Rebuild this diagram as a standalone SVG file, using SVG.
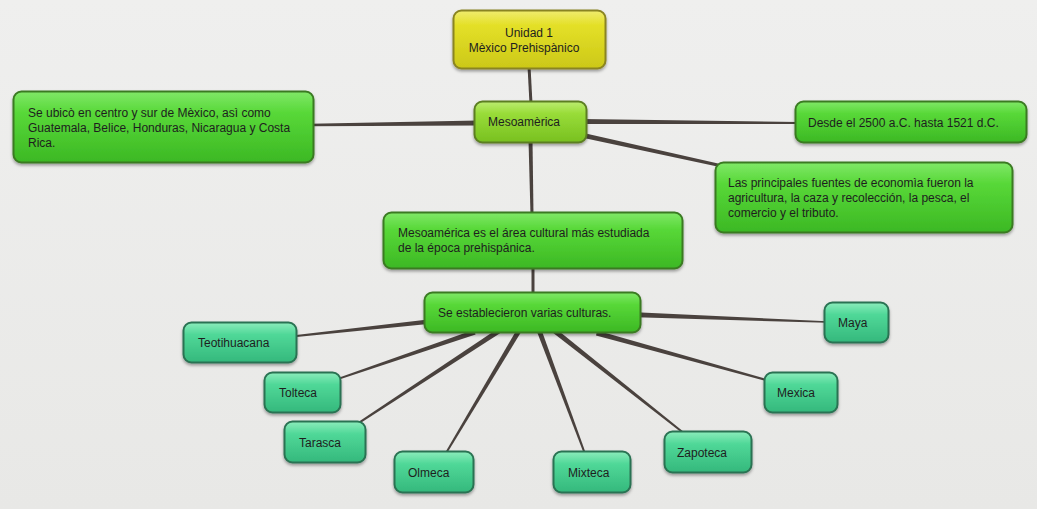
<svg xmlns="http://www.w3.org/2000/svg" width="1037" height="509" viewBox="0 0 1037 509">
<defs>
<linearGradient id="bg" x1="0" y1="0" x2="0" y2="1"><stop offset="0" stop-color="#efefee"/><stop offset="1" stop-color="#e8e8e6"/></linearGradient>
<linearGradient id="gY" x1="0" y1="0" x2="0" y2="1"><stop offset="0" stop-color="#f0ec70"/><stop offset="0.25" stop-color="#e4e028"/><stop offset="1" stop-color="#ccc818"/></linearGradient>
<linearGradient id="gL" x1="0" y1="0" x2="0" y2="1"><stop offset="0" stop-color="#bcec70"/><stop offset="0.3" stop-color="#98dc38"/><stop offset="1" stop-color="#78c020"/></linearGradient>
<linearGradient id="gG" x1="0" y1="0" x2="0" y2="1"><stop offset="0" stop-color="#80e868"/><stop offset="0.3" stop-color="#58d838"/><stop offset="1" stop-color="#3cb824"/></linearGradient>
<linearGradient id="gT" x1="0" y1="0" x2="0" y2="1"><stop offset="0" stop-color="#8cecbc"/><stop offset="0.3" stop-color="#50d898"/><stop offset="1" stop-color="#34b87c"/></linearGradient>
<filter id="sh" x="-10%" y="-10%" width="120%" height="140%"><feDropShadow dx="0" dy="2" stdDeviation="1.5" flood-color="#000" flood-opacity="0.35"/></filter>
</defs>
<style>
.n{filter:url(#sh);stroke-width:2}
.y{fill:url(#gY);stroke:#8a8420}
.l{fill:url(#gL);stroke:#5c7e22}
.g{fill:url(#gG);stroke:#3a7a22}
.t{fill:url(#gT);stroke:#2a7252}
text{font-family:"Liberation Sans",Arial,sans-serif;font-size:12px;fill:#1e1e1e}
.c{fill:#4a423e}
.cl{stroke:#4a423e;fill:none}
</style>
<rect width="1037" height="509" fill="url(#bg)"/>
<g id="connectors">
<line class="cl" x1="529" y1="66" x2="531" y2="104" stroke-width="3"/>
<polygon class="c" points="478,120.5 478,125.5 310,126.3 310,123.7"/>
<polygon class="c" points="582,119 798,122 798,124 582,124"/>
<polygon class="c" points="582.5,132.7 581.5,137.5 719.7,167 720.3,164"/>
<polygon class="c" points="528.5,140 532.5,140 533.5,215 530.5,215"/>
<line class="cl" x1="533" y1="266" x2="533" y2="295" stroke-width="3"/>
<polygon class="c" points="428,319.5 428,324 294,337.2 294,335.2"/>
<polygon class="c" points="636,312.3 636,317.3 827,322.8 827,321.3"/>
<polygon class="c" points="597,330.5 596,335.5 767.7,381.5 768.3,379.5"/>
<polygon class="c" points="474,329.7 475.6,334.4 338.5,379.8 337.9,377.9"/>
<polygon class="c" points="497.3,329 500,333.2 358.6,424.2 357.5,422.5"/>
<polygon class="c" points="517.4,328.5 521.7,331.1 447.2,453.1 445.5,452.1"/>
<polygon class="c" points="536.3,330.1 541,328.4 585.9,453.4 584,454.1"/>
<polygon class="c" points="552.6,332.5 555.7,328.6 683.6,431.8 682.4,433.3"/>
</g>
<g id="n-unidad"><rect class="n y" x="453.5" y="10.5" width="152" height="58" rx="8"/><text x="529" y="37" text-anchor="middle">Unidad 1</text><text x="524" y="52" text-anchor="middle">Mèxico Prehispànico</text></g>
<g id="n-meso"><rect class="n l" x="474.5" y="101.5" width="112" height="41" rx="8"/><text x="488" y="126">Mesoamèrica</text></g>
<g id="n-ubico"><rect class="n g" x="13.5" y="91.5" width="300" height="71" rx="8"/><text x="28" y="117">Se ubicò en centro y sur de Mèxico, asì como</text><text x="28" y="132">Guatemala, Belice, Honduras, Nicaragua y Costa</text><text x="28" y="147">Rica.</text></g>
<g id="n-desde"><rect class="n g" x="795.5" y="101.5" width="231" height="41" rx="8"/><text x="808" y="127">Desde el 2500 a.C. hasta 1521 d.C.</text></g>
<g id="n-economia"><rect class="n g" x="715.5" y="162.5" width="297" height="70" rx="8"/><text x="728" y="187">Las principales fuentes de economìa fueron la</text><text x="728" y="202">agricultura, la caza y recolección, la pesca, el</text><text x="728" y="217">comercio y el tributo.</text></g>
<g id="n-area"><rect class="n g" x="383.5" y="212.5" width="299" height="56" rx="8"/><text x="398" y="237">Mesoamérica es el área cultural más estudiada</text><text x="398" y="252">de la época prehispánica.</text></g>
<g id="n-culturas"><rect class="n g" x="424.5" y="292.5" width="216" height="40" rx="8"/><text x="438" y="317">Se establecieron varias culturas.</text></g>
<g id="n-teotihuacana"><rect class="n t" x="183.5" y="322.5" width="113" height="40" rx="8"/><text x="198" y="347">Teotihuacana</text></g>
<g id="n-tolteca"><rect class="n t" x="264.5" y="372.5" width="76" height="40" rx="8"/><text x="279" y="397">Tolteca</text></g>
<g id="n-tarasca"><rect class="n t" x="284.5" y="421.5" width="81" height="41" rx="8"/><text x="299" y="447">Tarasca</text></g>
<g id="n-olmeca"><rect class="n t" x="394.5" y="451.5" width="79" height="41" rx="8"/><text x="408" y="477">Olmeca</text></g>
<g id="n-mixteca"><rect class="n t" x="553.5" y="451.5" width="77" height="41" rx="8"/><text x="568" y="477">Mixteca</text></g>
<g id="n-zapoteca"><rect class="n t" x="664.5" y="431.5" width="87" height="41" rx="8"/><text x="677" y="457">Zapoteca</text></g>
<g id="n-mexica"><rect class="n t" x="764.5" y="372.5" width="73" height="40" rx="8"/><text x="777" y="397">Mexica</text></g>
<g id="n-maya"><rect class="n t" x="824.5" y="302.5" width="64" height="40" rx="8"/><text x="838" y="327">Maya</text></g>
</svg>
